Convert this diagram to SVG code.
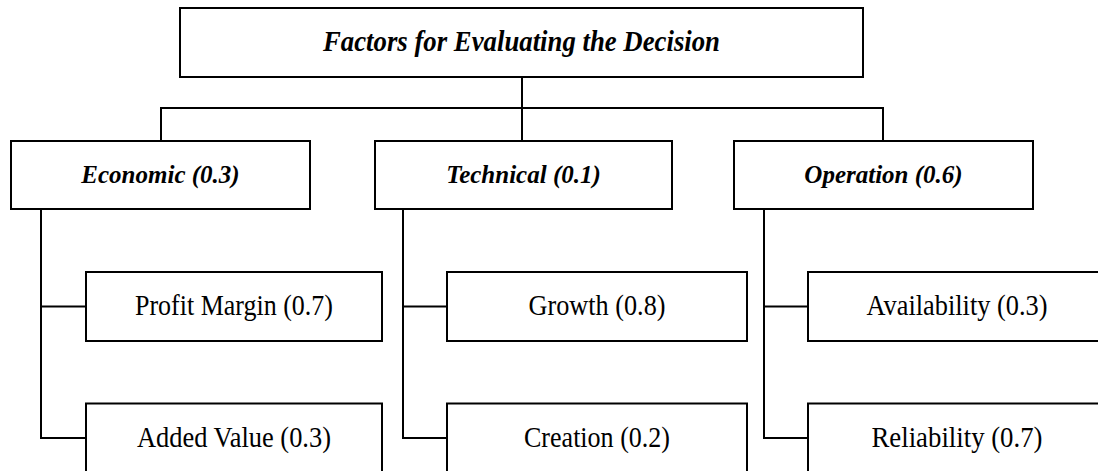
<svg xmlns="http://www.w3.org/2000/svg" width="1098" height="471" viewBox="0 0 1098 471">
<style>
.box{fill:#fff;stroke:#000;stroke-width:2}
.con{fill:none;stroke:#000;stroke-width:2}
text{font-family:'Liberation Serif','DejaVu Serif',serif;text-anchor:middle;fill:#000}
.h{font-weight:bold;font-style:italic;font-size:25px}
.t{font-weight:bold;font-style:italic;font-size:30px}
.s{font-size:29px}
</style>
<rect width="1098" height="471" fill="#fff"/>
<g id="connectors">
<path class="con" d="M522 77V141M161 141V108H883V141"/>
<path class="con" d="M41 209V438H86M41 306.5H86"/>
<path class="con" d="M403 209V438H447M403 306.5H447"/>
<path class="con" d="M764 209V438H808M764 306.5H808"/>
</g>
<g id="root"><rect class="box" x="180" y="8" width="683" height="69"/><text class="t" x="521.5" y="51" textLength="397" lengthAdjust="spacingAndGlyphs">Factors for Evaluating the Decision</text></g>
<g id="economic"><rect class="box" x="11" y="141" width="299" height="68"/><text class="h" x="160.5" y="183">Economic (0.3)</text></g>
<g id="technical"><rect class="box" x="375" y="141" width="297" height="68"/><text class="h" x="523.5" y="183">Technical (0.1)</text></g>
<g id="operation"><rect class="box" x="734" y="141" width="299" height="68"/><text class="h" x="883.5" y="183">Operation (0.6)</text></g>
<g id="profit"><rect class="box" x="86" y="272" width="296" height="69"/><text class="s" x="234" y="315" textLength="198" lengthAdjust="spacingAndGlyphs">Profit Margin (0.7)</text></g>
<g id="added"><rect class="box" x="86" y="403.5" width="296" height="69"/><text class="s" x="234" y="446.5" textLength="194" lengthAdjust="spacingAndGlyphs">Added Value (0.3)</text></g>
<g id="growth"><rect class="box" x="447" y="272" width="300" height="69"/><text class="s" x="597" y="315" textLength="137" lengthAdjust="spacingAndGlyphs">Growth (0.8)</text></g>
<g id="creation"><rect class="box" x="447" y="403.5" width="300" height="69"/><text class="s" x="597" y="446.5" textLength="146" lengthAdjust="spacingAndGlyphs">Creation (0.2)</text></g>
<g id="availability"><rect class="box" x="808" y="272" width="298" height="69"/><text class="s" x="957" y="315" textLength="181" lengthAdjust="spacingAndGlyphs">Availability (0.3)</text></g>
<g id="reliability"><rect class="box" x="808" y="403.5" width="298" height="69"/><text class="s" x="957" y="446.5" textLength="171" lengthAdjust="spacingAndGlyphs">Reliability (0.7)</text></g>
</svg>
